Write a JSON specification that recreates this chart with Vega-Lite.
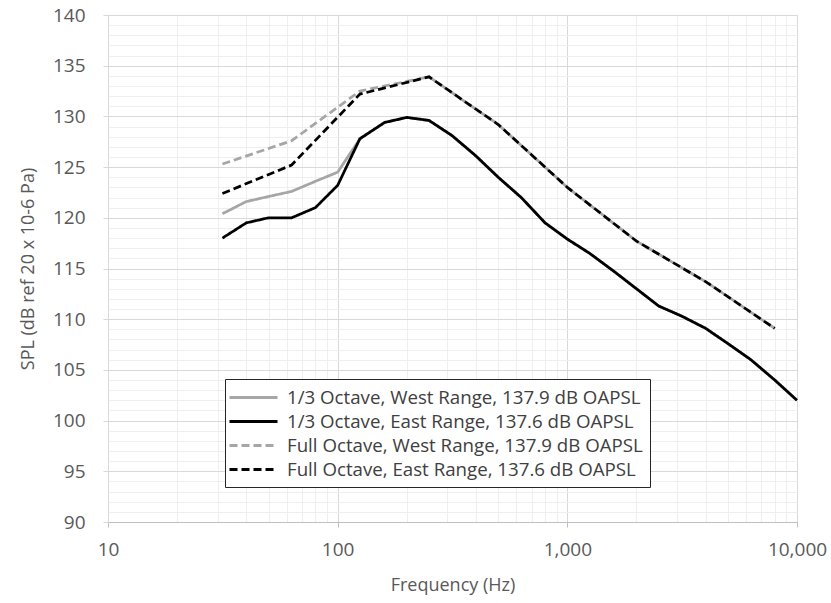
{
  "$schema": "https://vega.github.io/schema/vega-lite/v6.json",
  "autosize": "none",
  "width": 689,
  "height": 507,
  "padding": {"left": 108, "top": 15, "right": 34, "bottom": 81},
  "background": "white",
  "config": {"view": {"stroke": null}, "font": "Open Sans"},
  "data": {
    "values": [
      {"series": "1/3 Octave, West Range, 137.9 dB OAPSL", "f": 31.5, "spl": 120.4},
      {"series": "1/3 Octave, West Range, 137.9 dB OAPSL", "f": 40, "spl": 121.6},
      {"series": "1/3 Octave, West Range, 137.9 dB OAPSL", "f": 50, "spl": 122.1},
      {"series": "1/3 Octave, West Range, 137.9 dB OAPSL", "f": 63, "spl": 122.6},
      {"series": "1/3 Octave, West Range, 137.9 dB OAPSL", "f": 80, "spl": 123.6},
      {"series": "1/3 Octave, West Range, 137.9 dB OAPSL", "f": 100, "spl": 124.5},
      {"series": "1/3 Octave, West Range, 137.9 dB OAPSL", "f": 125, "spl": 127.8},
      {"series": "1/3 Octave, West Range, 137.9 dB OAPSL", "f": 160, "spl": 129.4},
      {"series": "1/3 Octave, West Range, 137.9 dB OAPSL", "f": 200, "spl": 129.9},
      {"series": "1/3 Octave, West Range, 137.9 dB OAPSL", "f": 250, "spl": 129.6},
      {"series": "1/3 Octave, West Range, 137.9 dB OAPSL", "f": 315, "spl": 128.1},
      {"series": "1/3 Octave, West Range, 137.9 dB OAPSL", "f": 400, "spl": 126.1},
      {"series": "1/3 Octave, West Range, 137.9 dB OAPSL", "f": 500, "spl": 124.0},
      {"series": "1/3 Octave, West Range, 137.9 dB OAPSL", "f": 630, "spl": 122.0},
      {"series": "1/3 Octave, West Range, 137.9 dB OAPSL", "f": 800, "spl": 119.5},
      {"series": "1/3 Octave, West Range, 137.9 dB OAPSL", "f": 1000, "spl": 117.9},
      {"series": "1/3 Octave, West Range, 137.9 dB OAPSL", "f": 1250, "spl": 116.5},
      {"series": "1/3 Octave, West Range, 137.9 dB OAPSL", "f": 1600, "spl": 114.7},
      {"series": "1/3 Octave, West Range, 137.9 dB OAPSL", "f": 2000, "spl": 113.0},
      {"series": "1/3 Octave, West Range, 137.9 dB OAPSL", "f": 2500, "spl": 111.3},
      {"series": "1/3 Octave, West Range, 137.9 dB OAPSL", "f": 3150, "spl": 110.3},
      {"series": "1/3 Octave, West Range, 137.9 dB OAPSL", "f": 4000, "spl": 109.1},
      {"series": "1/3 Octave, West Range, 137.9 dB OAPSL", "f": 5000, "spl": 107.6},
      {"series": "1/3 Octave, West Range, 137.9 dB OAPSL", "f": 6300, "spl": 106.0},
      {"series": "1/3 Octave, West Range, 137.9 dB OAPSL", "f": 8000, "spl": 104.0},
      {"series": "1/3 Octave, West Range, 137.9 dB OAPSL", "f": 10000, "spl": 102.0},
      {"series": "1/3 Octave, East Range, 137.6 dB OAPSL", "f": 31.5, "spl": 118.0},
      {"series": "1/3 Octave, East Range, 137.6 dB OAPSL", "f": 40, "spl": 119.5},
      {"series": "1/3 Octave, East Range, 137.6 dB OAPSL", "f": 50, "spl": 120.0},
      {"series": "1/3 Octave, East Range, 137.6 dB OAPSL", "f": 63, "spl": 120.0},
      {"series": "1/3 Octave, East Range, 137.6 dB OAPSL", "f": 80, "spl": 121.0},
      {"series": "1/3 Octave, East Range, 137.6 dB OAPSL", "f": 100, "spl": 123.2},
      {"series": "1/3 Octave, East Range, 137.6 dB OAPSL", "f": 125, "spl": 127.8},
      {"series": "1/3 Octave, East Range, 137.6 dB OAPSL", "f": 160, "spl": 129.4},
      {"series": "1/3 Octave, East Range, 137.6 dB OAPSL", "f": 200, "spl": 129.9},
      {"series": "1/3 Octave, East Range, 137.6 dB OAPSL", "f": 250, "spl": 129.6},
      {"series": "1/3 Octave, East Range, 137.6 dB OAPSL", "f": 315, "spl": 128.1},
      {"series": "1/3 Octave, East Range, 137.6 dB OAPSL", "f": 400, "spl": 126.1},
      {"series": "1/3 Octave, East Range, 137.6 dB OAPSL", "f": 500, "spl": 124.0},
      {"series": "1/3 Octave, East Range, 137.6 dB OAPSL", "f": 630, "spl": 122.0},
      {"series": "1/3 Octave, East Range, 137.6 dB OAPSL", "f": 800, "spl": 119.5},
      {"series": "1/3 Octave, East Range, 137.6 dB OAPSL", "f": 1000, "spl": 117.9},
      {"series": "1/3 Octave, East Range, 137.6 dB OAPSL", "f": 1250, "spl": 116.5},
      {"series": "1/3 Octave, East Range, 137.6 dB OAPSL", "f": 1600, "spl": 114.7},
      {"series": "1/3 Octave, East Range, 137.6 dB OAPSL", "f": 2000, "spl": 113.0},
      {"series": "1/3 Octave, East Range, 137.6 dB OAPSL", "f": 2500, "spl": 111.3},
      {"series": "1/3 Octave, East Range, 137.6 dB OAPSL", "f": 3150, "spl": 110.3},
      {"series": "1/3 Octave, East Range, 137.6 dB OAPSL", "f": 4000, "spl": 109.1},
      {"series": "1/3 Octave, East Range, 137.6 dB OAPSL", "f": 5000, "spl": 107.6},
      {"series": "1/3 Octave, East Range, 137.6 dB OAPSL", "f": 6300, "spl": 106.0},
      {"series": "1/3 Octave, East Range, 137.6 dB OAPSL", "f": 8000, "spl": 104.0},
      {"series": "1/3 Octave, East Range, 137.6 dB OAPSL", "f": 10000, "spl": 102.0},
      {"series": "Full Octave, West Range, 137.9 dB OAPSL", "f": 31.5, "spl": 125.3},
      {"series": "Full Octave, West Range, 137.9 dB OAPSL", "f": 63, "spl": 127.6},
      {"series": "Full Octave, West Range, 137.9 dB OAPSL", "f": 125, "spl": 132.5},
      {"series": "Full Octave, West Range, 137.9 dB OAPSL", "f": 250, "spl": 133.9},
      {"series": "Full Octave, West Range, 137.9 dB OAPSL", "f": 500, "spl": 129.2},
      {"series": "Full Octave, West Range, 137.9 dB OAPSL", "f": 1000, "spl": 123.0},
      {"series": "Full Octave, West Range, 137.9 dB OAPSL", "f": 2000, "spl": 117.7},
      {"series": "Full Octave, West Range, 137.9 dB OAPSL", "f": 4000, "spl": 113.7},
      {"series": "Full Octave, West Range, 137.9 dB OAPSL", "f": 8000, "spl": 109.1},
      {"series": "Full Octave, East Range, 137.6 dB OAPSL", "f": 31.5, "spl": 122.4},
      {"series": "Full Octave, East Range, 137.6 dB OAPSL", "f": 63, "spl": 125.2},
      {"series": "Full Octave, East Range, 137.6 dB OAPSL", "f": 125, "spl": 132.2},
      {"series": "Full Octave, East Range, 137.6 dB OAPSL", "f": 250, "spl": 133.9},
      {"series": "Full Octave, East Range, 137.6 dB OAPSL", "f": 500, "spl": 129.2},
      {"series": "Full Octave, East Range, 137.6 dB OAPSL", "f": 1000, "spl": 123.0},
      {"series": "Full Octave, East Range, 137.6 dB OAPSL", "f": 2000, "spl": 117.7},
      {"series": "Full Octave, East Range, 137.6 dB OAPSL", "f": 4000, "spl": 113.7},
      {"series": "Full Octave, East Range, 137.6 dB OAPSL", "f": 8000, "spl": 109.1}
    ]
  },
  "mark": {"type": "line", "strokeWidth": 2.75},
  "encoding": {
    "x": {
      "field": "f",
      "type": "quantitative",
      "scale": {"type": "log", "domain": [10, 10000], "nice": false},
      "axis": {
        "title": "Frequency (Hz)",
        "values": [10, 20, 30, 40, 50, 60, 70, 80, 90, 100, 200, 300, 400, 500, 600, 700, 800, 900, 1000, 2000, 3000, 4000, 5000, 6000, 7000, 8000, 9000, 10000],
        "labelExpr": "indexof([10, 100, 1000, 10000], datum.value) >= 0 ? format(datum.value, ',') : ''",
        "gridColor": {"condition": {"test": "indexof([10, 100, 1000, 10000], datum.value) >= 0", "value": "#d9d9d9"}, "value": "#efefef"},
        "tickOpacity": {"condition": {"test": "indexof([10, 100, 1000, 10000], datum.value) >= 0", "value": 1}, "value": 0},
        "grid": true,
        "domainColor": "#bfbfbf",
        "tickColor": "#bfbfbf",
        "tickSize": 5,
        "labelPadding": 13,
        "labelFontSize": 19,
        "labelColor": "#595959",
        "labelOverlap": false,
        "labelFlush": false,
        "titleFontSize": 18,
        "titleColor": "#595959",
        "titleFontWeight": "normal",
        "titlePadding": 17
      }
    },
    "y": {
      "field": "spl",
      "type": "quantitative",
      "scale": {"domain": [90, 140], "nice": false, "zero": false},
      "axis": {
        "title": "SPL (dB ref 20 x 10-6 Pa)",
        "values": [90, 91, 92, 93, 94, 95, 96, 97, 98, 99, 100, 101, 102, 103, 104, 105, 106, 107, 108, 109, 110, 111, 112, 113, 114, 115, 116, 117, 118, 119, 120, 121, 122, 123, 124, 125, 126, 127, 128, 129, 130, 131, 132, 133, 134, 135, 136, 137, 138, 139, 140],
        "labelExpr": "datum.value % 5 == 0 ? datum.label : ''",
        "gridColor": {"condition": {"test": "datum.value % 5 == 0", "value": "#d9d9d9"}, "value": "#efefef"},
        "tickOpacity": {"condition": {"test": "datum.value % 5 == 0", "value": 1}, "value": 0},
        "grid": true,
        "domain": false,
        "tickColor": "#d9d9d9",
        "tickSize": 5,
        "labelPadding": 18,
        "labelFontSize": 19,
        "labelColor": "#595959",
        "labelOverlap": false,
        "labelFlush": false,
        "titleFontSize": 18,
        "titleColor": "#595959",
        "titleFontWeight": "normal",
        "titlePadding": 15
      }
    },
    "color": {
      "field": "series",
      "type": "nominal",
      "scale": {
        "domain": ["1/3 Octave, West Range, 137.9 dB OAPSL", "1/3 Octave, East Range, 137.6 dB OAPSL", "Full Octave, West Range, 137.9 dB OAPSL", "Full Octave, East Range, 137.6 dB OAPSL"],
        "range": ["#a6a6a6", "#000000", "#a6a6a6", "#000000"]
      },
      "legend": {
        "title": null,
        "orient": "none",
        "legendX": 117,
        "legendY": 364,
        "strokeColor": "#262626",
        "fillColor": "white",
        "padding": 7,
        "labelFontSize": 18.7,
        "labelColor": "#404040",
        "labelLimit": 600,
        "labelOffset": 32,
        "symbolType": "M-1.4,0H3.4",
        "symbolStrokeWidth": 3,
        "symbolSize": 400,
        "rowPadding": 2
      }
    },
    "strokeDash": {
      "field": "series",
      "type": "nominal",
      "scale": {
        "domain": ["1/3 Octave, West Range, 137.9 dB OAPSL", "1/3 Octave, East Range, 137.6 dB OAPSL", "Full Octave, West Range, 137.9 dB OAPSL", "Full Octave, East Range, 137.6 dB OAPSL"],
        "range": [[1, 0], [1, 0], [8, 4], [8, 4]]
      },
      "legend": {
        "title": null,
        "orient": "none",
        "legendX": 117,
        "legendY": 364,
        "strokeColor": "#262626",
        "fillColor": "white",
        "padding": 7,
        "labelFontSize": 18.7,
        "labelColor": "#404040",
        "labelLimit": 600,
        "labelOffset": 32,
        "symbolType": "M-1.4,0H3.4",
        "symbolStrokeWidth": 3,
        "symbolSize": 400,
        "rowPadding": 2
      }
    }
  }
}
